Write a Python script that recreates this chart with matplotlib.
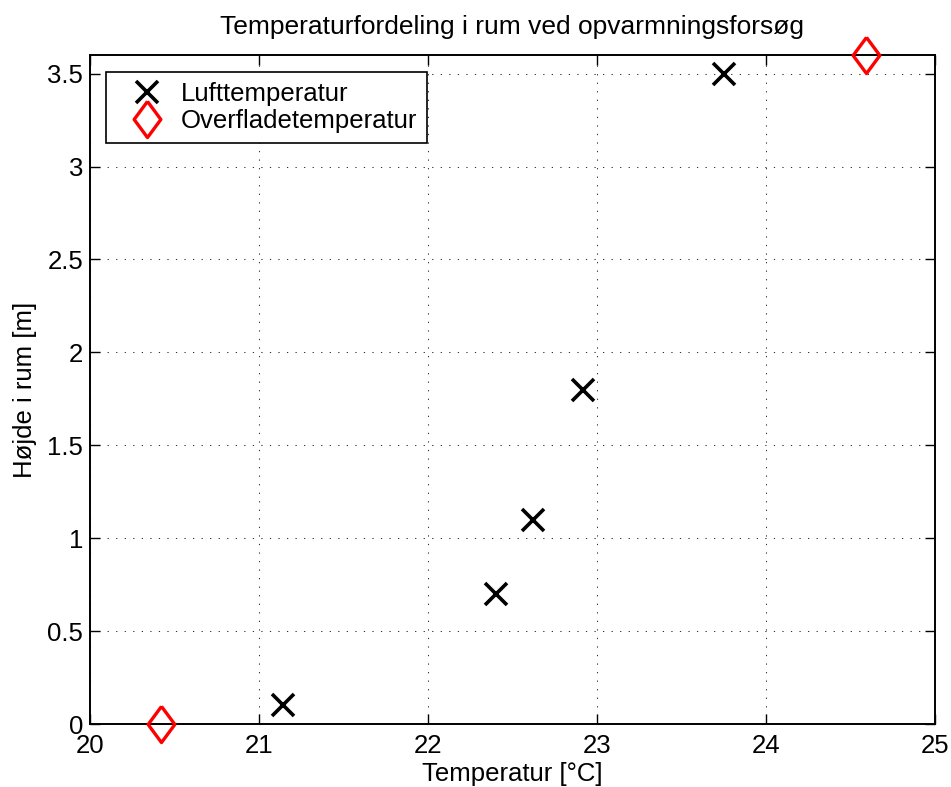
import matplotlib
matplotlib.use("Agg")
import matplotlib.pyplot as plt
import numpy as np

plt.rcParams['font.family'] = ['Liberation Sans', 'DejaVu Sans']

# Measurements
air_temp = [21.14, 22.40, 22.62, 22.92, 23.75]
air_height = [0.1, 0.7, 1.1, 1.8, 3.5]
surf_temp = [20.42, 24.59]
surf_height = [0.0, 3.6]

x_ticks = [20, 21, 22, 23, 24, 25]
y_ticks = [0, 0.5, 1, 1.5, 2, 2.5, 3, 3.5]

fig = plt.figure(figsize=(9.51, 7.87), dpi=100)
ax = fig.add_axes([0.0946, 0.080, 0.8886, 0.850])

diamond = [(0, 1), (0.74, 0), (0, -1), (-0.74, 0), (0, 1)]

ax.plot(air_temp, air_height, linestyle='none', marker='x', color='black',
        markersize=15.5, markeredgewidth=2.6, label='Lufttemperatur', clip_on=False, zorder=5)
ax.plot(surf_temp, surf_height, linestyle='none', marker=diamond, color='red',
        markerfacecolor='none', markersize=26, markeredgewidth=2.4,
        label='Overfladetemperatur', clip_on=False, zorder=5)

ax.set_xlim(20, 25)
ax.set_ylim(0, 3.6)
ax.set_xticks(x_ticks)
ax.set_yticks(y_ticks)
ax.set_xticklabels([str(t) for t in x_ticks])
ax.set_yticklabels(['0', '0.5', '1', '1.5', '2', '2.5', '3', '3.5'])

ax.grid(True, linestyle=(0, (1.2, 7)), color='#333333', linewidth=0.75)
ax.tick_params(direction='in', length=7, width=1.0, labelsize=18.5, top=True, right=True,
               colors='black')
ax.tick_params(axis='x', pad=7)
ax.tick_params(axis='y', pad=5)
for s in ax.spines.values():
    s.set_linewidth(1.4)
    s.set_color('black')

ax.set_title('Temperaturfordeling i rum ved opvarmningsforsøg', fontsize=19, pad=15)
ax.set_xlabel('Temperatur [°C]', fontsize=18.5, labelpad=3)
ax.set_ylabel('Højde i rum [m]', fontsize=18.5, labelpad=7)

leg = ax.legend(loc='upper left', bbox_to_anchor=(0.0195, 0.975), fontsize=18.5,
                frameon=True, fancybox=False, edgecolor='black', framealpha=1,
                borderaxespad=0, handlelength=2.33, handletextpad=0.15, borderpad=0.4,
                labelspacing=0.1, numpoints=1)
leg.get_frame().set_linewidth(1.2)

fig.savefig('out.png', dpi=100, facecolor='white')
